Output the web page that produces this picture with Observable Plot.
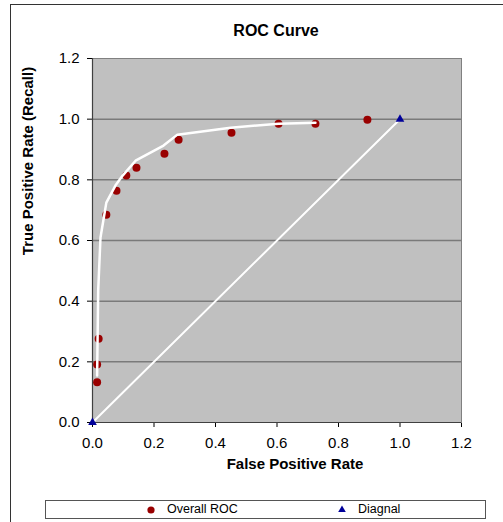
<!DOCTYPE html>
<html>
<head>
<meta charset="utf-8">
<script src="https://cdn.jsdelivr.net/npm/d3@7"></script>
<script src="https://cdn.jsdelivr.net/npm/@observablehq/plot@0.6"></script>
<style>
  html, body { margin: 0; padding: 0; background: #fff; }
  #wrap { position: relative; width: 503px; height: 522px; overflow: hidden; background: #fff; font-family: "Liberation Sans", Arial, sans-serif; }
  #wrap svg { position: absolute; left: 0; top: 0; }
  .abs { position: absolute; white-space: nowrap; color: #000; }
</style>
</head>
<body>
<div id="wrap"></div>
<script>
// ROC points (False Positive Rate, True Positive Rate)
const rocFPR = [0.015, 0.015, 0.02, 0.045, 0.078, 0.11, 0.143, 0.234, 0.28, 0.452, 0.605, 0.725, 0.894];
const rocTPR = [0.133, 0.191, 0.276, 0.685, 0.764, 0.814, 0.84, 0.886, 0.932, 0.955, 0.985, 0.985, 0.998];
// Fitted ROC curve (white line)
const curveFPR = [0.015, 0.0185, 0.026, 0.045, 0.075, 0.098, 0.14, 0.231, 0.276, 0.449, 0.605, 0.725];
const curveTPR = [0.155, 0.435, 0.61, 0.725, 0.782, 0.814, 0.863, 0.913, 0.949, 0.972, 0.985, 0.988];
// Diagonal
const diagFPR = [0, 1];
const diagTPR = [0, 1];
// Axis ticks
const xTicks = [0, 0.2, 0.4, 0.6, 0.8, 1.0, 1.2];
const yTicks = [0, 0.2, 0.4, 0.6, 0.8, 1.0, 1.2];

const roc = rocFPR.map((x, i) => ({x, y: rocTPR[i]}));
const curve = curveFPR.map((x, i) => ({x, y: curveTPR[i]}));
const diag = diagFPR.map((x, i) => ({x, y: diagTPR[i]}));

const fmt = d3.format(".1f");

const chart = Plot.plot({
  width: 503,
  height: 522,
  marginTop: 58,
  marginBottom: 100,
  marginLeft: 92,
  marginRight: 42,
  style: { fontFamily: "'Liberation Sans', Arial, sans-serif", fontSize: "15px", background: "transparent", color: "#000" },
  x: { domain: [0, 1.2], ticks: xTicks, tickFormat: fmt, tickSize: 5, tickPadding: 10, label: null },
  y: { domain: [0, 1.2], ticks: yTicks, tickFormat: fmt, tickSize: 5, tickPadding: 8, label: null },
  marks: [
    Plot.frame({ fill: "#c0c0c0", stroke: "#808080" }),
    Plot.ruleY(yTicks.slice(1, -1), { stroke: "#7a7a7a", strokeWidth: 1.5 }),
    Plot.ruleX([0], { stroke: "#404040", strokeWidth: 1.2 }),
    Plot.ruleY([0], { stroke: "#404040", strokeWidth: 1.2 }),
    Plot.line(diag, { x: "x", y: "y", stroke: "#fff", strokeWidth: 2 }),
    Plot.dot(roc, { x: "x", y: "y", r: 4, fill: "#990000", stroke: "none" }),
    Plot.line(curve, { x: "x", y: "y", stroke: "#fff", strokeWidth: 2.5 }),
    Plot.dot(diag, { x: "x", y: "y", symbol: "triangle", r: 3.2, fill: "#000099", stroke: "none" })
  ]
});

const wrap = document.getElementById("wrap");
wrap.appendChild(chart);

function addDiv(html, css) {
  const d = document.createElement("div");
  d.className = "abs";
  d.innerHTML = html;
  d.setAttribute("style", css);
  wrap.appendChild(d);
  return d;
}
// page frame lines
addDiv("", "left:10px;top:4px;width:1px;height:530px;background:#333;");
addDiv("", "left:10px;top:4px;width:500px;height:1px;background:#333;");
// title
addDiv("ROC Curve", "left:276px;top:31px;transform:translate(-50%,-50%);font-weight:bold;font-size:16px;");
// axis titles
addDiv("False Positive Rate", "left:295px;top:463px;transform:translate(-50%,-50%);font-weight:bold;font-size:15px;");
addDiv("True Positive Rate (Recall)", "left:27px;top:161px;transform:translate(-50%,-50%) rotate(-90deg);font-weight:bold;font-size:15px;");
// legend
const legend = addDiv("", "left:45px;top:500px;width:441px;height:19px;border:1px solid #555;box-sizing:border-box;font-size:12.5px;");
legend.innerHTML =
  '<svg width="10" height="10" style="position:absolute;left:100px;top:4px"><circle cx="5" cy="5" r="3.6" fill="#990000"/></svg>' +
  '<span style="position:absolute;left:121px;top:1px">Overall ROC</span>' +
  '<svg width="10" height="10" style="position:absolute;left:291px;top:3px"><path d="M5,1.5 L8.8,8 L1.2,8 Z" fill="#000099"/></svg>' +
  '<span style="position:absolute;left:312px;top:1px">Diagnal</span>';
</script>
</body>
</html>
